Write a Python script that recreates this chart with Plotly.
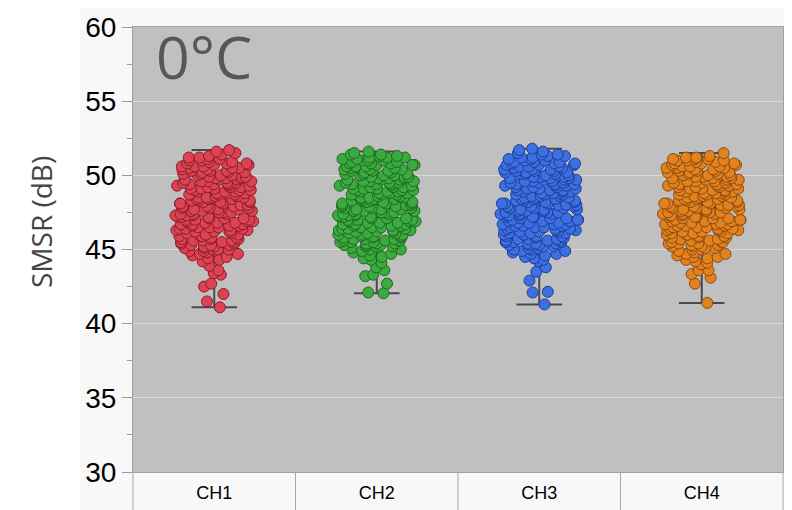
import numpy as np
import plotly.graph_objects as go

categories = ["CH1", "CH2", "CH3", "CH4"]

ch1 = [44.8, 44.9, 45.0, 44.9, 45.0, 44.7,
       45.1, 45.2, 45.3, 45.4, 45.5, 45.6, 45.7, 45.8, 45.9, 45.1, 45.3, 45.5, 45.7, 45.9,
       45.2, 45.4, 45.6, 45.8, 45.0, 45.5, 45.7, 45.3, 45.9, 45.6,
       46.0, 46.1, 46.2, 46.3, 46.4, 46.5, 46.6, 46.7, 46.8, 46.9, 46.0, 46.2, 46.4, 46.6,
       46.8, 46.1, 46.3, 46.5, 46.7, 46.9, 46.2, 46.5, 46.8, 46.4, 46.6, 46.3, 46.7, 46.9,
       47.0, 47.1, 47.2, 47.3, 47.4, 47.5, 47.6, 47.7, 47.8, 47.9, 47.0, 47.2, 47.4, 47.6, 47.8,
       47.1, 47.3, 47.5, 47.7, 47.9, 47.1, 47.4, 47.7, 47.3, 47.6, 47.9, 47.2, 47.5, 47.8, 47.0,
       48.0, 48.1, 48.2, 48.3, 48.4, 48.5, 48.6, 48.7, 48.8, 48.9, 48.0, 48.2, 48.4, 48.6, 48.8,
       48.1, 48.3, 48.5, 48.7, 48.9, 48.2, 48.5, 48.8, 48.3, 48.6, 48.9, 48.1, 48.4, 48.7, 48.5,
       49.0, 49.1, 49.2, 49.3, 49.4, 49.5, 49.6, 49.7, 49.8, 49.9, 49.0, 49.2, 49.4, 49.6, 49.8,
       49.1, 49.3, 49.5, 49.7, 49.9, 49.2, 49.5, 49.8, 49.3, 49.6, 49.9, 49.0, 49.4, 49.7, 49.1,
       50.0, 50.1, 50.2, 50.3, 50.4, 50.5, 50.6, 50.7, 50.8, 50.9, 50.0, 50.2, 50.4, 50.6, 50.8,
       50.1, 50.3, 50.5, 50.7, 50.9, 50.2, 50.5, 50.8, 50.3, 50.6, 50.0,
       51.0, 51.1, 51.2, 51.0, 51.3, 51.1, 51.5, 51.7, 51.4, 51.2, 51.6,
       44.7, 44.3, 43.9, 43.6, 43.3, 43.4, 42.7, 42.5, 42.0, 41.5, 41.1, 44.5, 44.6, 44.2, 44.4]

ch2 = [45.0, 45.1, 44.9, 45.2, 45.0, 44.8,
       45.3, 45.4, 45.5, 45.6, 45.7, 45.8, 45.9, 45.2, 45.4, 45.6, 45.8, 45.3, 45.5, 45.7,
       45.9, 45.4, 45.6, 45.8, 45.5, 45.7, 45.3, 45.9, 45.6, 45.2,
       46.9, 46.8, 46.7, 46.6, 46.5, 46.4, 46.3, 46.2, 46.1, 46.0, 46.9, 46.7, 46.5, 46.3, 46.1,
       46.8, 46.6, 46.4, 46.2, 46.0, 46.7, 46.4, 46.1, 46.6, 46.3, 46.0, 46.8, 46.5, 46.2, 46.9,
       47.5, 47.0, 47.8, 47.3, 47.6, 47.1, 47.9, 47.4, 47.2, 47.7, 47.5, 47.0, 47.8, 47.3, 47.6,
       47.1, 47.9, 47.4, 47.2, 47.7, 47.5, 47.3, 47.8, 47.0, 47.6, 47.4, 47.9, 47.1, 47.2, 47.7,
       48.9, 48.8, 48.7, 48.6, 48.5, 48.4, 48.3, 48.2, 48.1, 48.0, 48.9, 48.7, 48.5, 48.3, 48.1,
       48.8, 48.6, 48.4, 48.2, 48.0, 48.7, 48.4, 48.1, 48.6, 48.3, 48.0, 48.8, 48.5, 48.2, 48.9,
       49.5, 49.0, 49.8, 49.3, 49.6, 49.1, 49.9, 49.4, 49.2, 49.7, 49.5, 49.0, 49.8, 49.3, 49.6,
       49.1, 49.9, 49.4, 49.2, 49.7, 49.5, 49.3, 49.8, 49.0, 49.6, 49.4, 49.9, 49.1, 49.2, 49.7,
       50.9, 50.8, 50.7, 50.6, 50.5, 50.4, 50.3, 50.2, 50.1, 50.0, 50.9, 50.7, 50.5, 50.3, 50.1,
       50.8, 50.6, 50.4, 50.2, 50.0, 50.7, 50.4, 50.1, 50.6, 50.3, 50.0, 50.8,
       51.0, 51.1, 51.2, 51.3, 51.0, 51.2, 51.1, 51.3, 51.4, 51.5, 51.6, 51.2, 51.0, 51.4,
       44.6, 44.4, 44.1, 43.8, 43.6, 43.3, 43.2, 42.7, 42.1, 42.05, 44.5, 44.7, 44.3]

ch3 = [44.9, 45.0, 44.8, 45.1, 44.9, 44.7,
       45.2, 45.3, 45.4, 45.5, 45.6, 45.7, 45.8, 45.9, 45.1, 45.3, 45.5, 45.7, 45.9, 45.2,
       45.4, 45.6, 45.8, 45.0, 45.5, 45.7, 45.3, 45.9, 45.6, 45.4,
       46.4, 46.1, 46.7, 46.2, 46.9, 46.0, 46.5, 46.8, 46.3, 46.6, 46.4, 46.1, 46.7, 46.2, 46.9,
       46.0, 46.5, 46.8, 46.3, 46.6, 46.2, 46.7, 46.4, 46.9, 46.1, 46.6, 46.3, 46.8, 46.0, 46.5,
       47.9, 47.8, 47.7, 47.6, 47.5, 47.4, 47.3, 47.2, 47.1, 47.0, 47.9, 47.7, 47.5, 47.3, 47.1,
       47.8, 47.6, 47.4, 47.2, 47.0, 47.7, 47.4, 47.1, 47.6, 47.3, 47.0, 47.8, 47.5, 47.2, 47.9,
       48.4, 48.1, 48.7, 48.2, 48.9, 48.0, 48.5, 48.8, 48.3, 48.6, 48.4, 48.1, 48.7, 48.2, 48.9,
       48.0, 48.5, 48.8, 48.3, 48.6, 48.2, 48.7, 48.4, 48.9, 48.1, 48.6, 48.3, 48.8, 48.0, 48.5,
       49.9, 49.8, 49.7, 49.6, 49.5, 49.4, 49.3, 49.2, 49.1, 49.0, 49.9, 49.7, 49.5, 49.3, 49.1,
       49.8, 49.6, 49.4, 49.2, 49.0, 49.7, 49.4, 49.1, 49.6, 49.3, 49.0, 49.8, 49.5, 49.2, 49.9,
       50.4, 50.1, 50.7, 50.2, 50.9, 50.0, 50.5, 50.8, 50.3, 50.6, 50.4, 50.1, 50.7, 50.2, 50.9,
       50.0, 50.5, 50.8, 50.3, 50.6, 50.2, 50.7, 50.4, 50.9, 50.1, 50.6, 50.3, 50.8,
       51.0, 51.1, 51.2, 51.3, 51.4, 51.0, 51.2, 51.1, 51.5, 51.6, 51.8, 51.7, 51.3, 51.4,
       44.7, 44.6, 44.3, 43.8, 43.5, 42.9, 42.1, 42.15, 41.3, 44.5, 44.4, 44.2]

ch4 = [44.7, 44.8, 44.6, 44.9, 44.7, 44.5,
       45.0, 45.1, 45.2, 45.3, 45.4, 45.5, 45.6, 45.7, 45.8, 45.9, 45.0, 45.2, 45.4, 45.6,
       45.8, 45.1, 45.3, 45.5, 45.7, 45.9, 45.2, 45.5, 45.8, 45.4,
       46.0, 46.1, 46.2, 46.3, 46.4, 46.5, 46.6, 46.7, 46.8, 46.9, 46.0, 46.2, 46.4, 46.6, 46.8,
       46.1, 46.3, 46.5, 46.7, 46.9, 46.1, 46.4, 46.7, 46.3, 46.6, 46.9, 46.2, 46.5, 46.8, 46.0,
       47.4, 47.1, 47.7, 47.2, 47.9, 47.0, 47.5, 47.8, 47.3, 47.6, 47.4, 47.1, 47.7, 47.2, 47.9,
       47.0, 47.5, 47.8, 47.3, 47.6, 47.2, 47.7, 47.4, 47.9, 47.1, 47.6, 47.3, 47.8, 47.0, 47.5,
       48.0, 48.1, 48.2, 48.3, 48.4, 48.5, 48.6, 48.7, 48.8, 48.9, 48.0, 48.2, 48.4, 48.6, 48.8,
       48.1, 48.3, 48.5, 48.7, 48.9, 48.1, 48.4, 48.7, 48.3, 48.6, 48.9, 48.2, 48.5, 48.8, 48.0,
       49.4, 49.1, 49.7, 49.2, 49.9, 49.0, 49.5, 49.8, 49.3, 49.6, 49.4, 49.1, 49.7, 49.2, 49.9,
       49.0, 49.5, 49.8, 49.3, 49.6, 49.2, 49.7, 49.4, 49.9, 49.1, 49.6, 49.3, 49.8, 49.0, 49.5,
       50.0, 50.1, 50.2, 50.3, 50.4, 50.5, 50.6, 50.7, 50.8, 50.9, 50.0, 50.2, 50.4, 50.6, 50.8,
       50.1, 50.3, 50.5, 50.7, 50.9, 50.2, 50.5, 50.8, 50.3, 50.6, 50.0,
       51.0, 51.1, 51.2, 51.0, 51.1, 51.2, 51.3, 51.5, 51.0, 51.1,
       44.4, 44.1, 43.6, 43.6, 43.35, 43.1, 42.7, 41.4, 44.3, 44.2, 44.0, 44.5]

series = [ch1, ch2, ch3, ch4]
fill_colors = ["#dc4352", "#3bab3f", "#3c6fe0", "#e2821f"]
edge_colors = ["#8a1c2a", "#1d6a1f", "#1b3f9e", "#8a4a0e"]

y_ticks = [30, 35, 40, 45, 50, 55, 60]

fig = go.Figure()

# whiskers (min to max) drawn beneath the points
for cat, vals in zip(categories, series):
    med = float(np.median(vals))
    fig.add_trace(go.Box(
        x=[cat], q1=[med], median=[med], q3=[med],
        lowerfence=[min(vals)], upperfence=[max(vals)],
        width=0.28, whiskerwidth=1, boxpoints=False,
        line=dict(color="#4a4a4a", width=2),
        fillcolor="rgba(0,0,0,0)", showlegend=False, hoverinfo="skip"))

# jittered points
for cat, vals, fc, ec in zip(categories, series, fill_colors, edge_colors):
    fig.add_trace(go.Box(
        x=[cat] * len(vals), y=vals, boxpoints="all", jitter=1, pointpos=0,
        width=0.48, line=dict(color="rgba(0,0,0,0)", width=0),
        fillcolor="rgba(0,0,0,0)",
        marker=dict(size=11, color=fc, line=dict(color=ec, width=1)),
        showlegend=False, hoverinfo="y"))

# the page body keeps its default 8px margin, so the figure is sized to fit after it
W, H = 784, 502
L, R, T, B = 125, 9, 19, 38
pw, ph = W - L - R, H - T - B

shapes = []
# white strip at the left of the page
shapes.append(dict(type="rect", xref="paper", yref="paper", layer="below",
                   x0=-L / pw, x1=(72 - L) / pw, y0=-B / ph, y1=1 + T / ph,
                   fillcolor="white", line=dict(width=0)))
# category band separators
for k in range(len(categories) + 1):
    shapes.append(dict(type="line", xref="paper", yref="paper",
                       x0=k / len(categories), x1=k / len(categories),
                       y0=-B / ph, y1=0, line=dict(color="#a8a8a8", width=1)))

fig.update_layout(
    width=W, height=H,
    margin=dict(l=L, r=R, t=T, b=B, autoexpand=False),
    paper_bgcolor="#f8f8f8", plot_bgcolor="#c0c0c0",
    boxmode="overlay", showlegend=False,
    shapes=shapes,
    annotations=[
        dict(text="0°C", xref="paper", yref="paper",
             x=0.032, y=1, xanchor="left", yanchor="top", yshift=13,
             showarrow=False,
             font=dict(family="Open Sans", size=59, color="#575757")),
        dict(text="SMSR (dB)", xref="paper", yref="paper",
             x=(33 - L) / pw, y=1 - (214 - T) / ph, xanchor="center", yanchor="middle",
             textangle=-90, showarrow=False,
             font=dict(family="Open Sans", size=28, color="#444444")),
    ],
    xaxis=dict(type="category", categoryorder="array", categoryarray=categories,
               range=[-0.5, 3.5], showgrid=False, zeroline=False, ticks="",
               showline=True, linecolor="#a0a0a0", mirror=True, automargin=False,
               tickfont=dict(family="Liberation Sans", size=18, color="black"),
               ticklabelstandoff=4),
    yaxis=dict(range=[30, 60], tickvals=y_ticks, ticks="outside", ticklen=10,
               tickcolor="#9a9a9a", showgrid=True, gridcolor="#dadada", gridwidth=1,
               zeroline=False, showline=True, linecolor="#a0a0a0", mirror=True,
               automargin=False,
               tickfont=dict(family="Liberation Sans", size=28, color="black"),
               minor=dict(dtick=2.5, tick0=30, ticks="outside", ticklen=5,
                          tickcolor="#9a9a9a", showgrid=False)),
)

fig.write_html("out.html")
